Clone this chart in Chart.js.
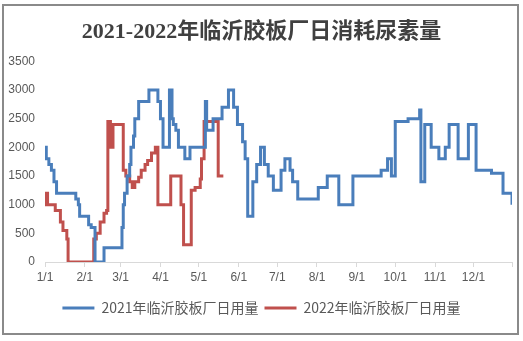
<!DOCTYPE html>
<html>
<head>
<meta charset="utf-8">
<script src="https://cdn.jsdelivr.net/npm/chart.js@4.4.0/dist/chart.umd.min.js"></script>
<style>
  body { margin: 0; background: #fff; }
  #wrap { position: relative; width: 523px; height: 341px; }
  #frame { position: absolute; left: 2px; top: 4px; width: 517px; height: 331px; border: 2px solid #8a8a8a; box-sizing: border-box; pointer-events: none; }
</style>
</head>
<body>
<div id="wrap">
  <canvas id="usageChart" width="523" height="341"></canvas>
  <div id="frame"></div>
</div>
<script>
const chartTitle = '2021-2022年临沂胶板厂日消耗尿素量';
const seriesNames = ['2021年临沂胶板厂日用量', '2022年临沂胶板厂日用量'];

// day of year (0 = 1/1) where the value changes, and the new value
const days2021 = [0, 1, 3, 5, 7, 9, 24, 26, 27, 34, 36, 39, 46, 60, 61, 62, 64, 66, 67, 69, 70, 73,
  81, 88, 90, 92, 97, 99, 100, 102, 104, 109, 113, 125, 126, 131, 138, 143, 147, 150, 154, 156,
  158, 162, 165, 168, 171, 174, 178, 184, 187, 191, 193, 197, 213, 220, 229, 240, 262, 267, 270,
  273, 283, 292, 293, 296, 301, 307, 312, 315, 322, 330, 336, 348, 357, 364];
const values2021 = [2000, 1800, 1700, 1600, 1400, 1200, 1100, 1000, 800, 650, 600, 0, 250, 600, 1000, 1200, 1500, 1700, 2000, 2200, 2500, 2800,
  3000, 2800, 2500, 2000, 3000, 2500, 2400, 2300, 2000, 1800, 2000, 2800, 2300, 2500, 2700, 3000, 2700, 2400, 2100, 1800,
  800, 1400, 1700, 2000, 1700, 1500, 1250, 1600, 1800, 1600, 1400, 1100, 1300, 1500, 1000, 1500, 1600, 1800, 1500,
  2450, 2500, 2650, 1400, 2400, 2000, 1800, 2000, 2400, 1800, 2400, 1600, 1550, 1200, 1000];

const days2022 = [0, 1, 2, 8, 12, 14, 17, 18, 38, 40, 43, 46, 48, 49, 51, 53, 61, 63, 66, 68, 70, 73, 75,
  78, 80, 83, 86, 88, 98, 106, 108, 114, 117, 121, 122, 124, 135, 139];
const values2022 = [1000, 1200, 1000, 900, 700, 550, 400, 0, 400, 500, 700, 850, 900, 2450, 2000, 2400, 1600, 1500, 1400, 1300, 1400, 1480, 1600,
  1700, 1770, 1900, 2000, 1000, 1500, 1000, 300, 1250, 1300, 1450, 1800, 2450, 1500, 1500];

const tickDays = [0, 31, 59, 90, 120, 151, 181, 212, 243, 273, 304, 334, 364];
const tickLabels = ['1/1', '2/1', '3/1', '4/1', '5/1', '6/1', '7/1', '8/1', '9/1', '10/1', '11/1', '12/1', ''];

const toPoints = (xs, ys) => xs.map((d, i) => ({ x: d, y: ys[i] }));
const axisFont = { family: '"Liberation Sans", Arial, sans-serif', size: 12 };

new Chart(document.getElementById('usageChart'), {
    type: 'line',
    data: {
        datasets: [{
            label: seriesNames[0],
            data: toPoints(days2021, values2021),
            borderColor: '#4a7ebb',
            backgroundColor: '#4a7ebb',
            borderWidth: 3,
            stepped: true,
            pointRadius: 0
        }, {
            label: seriesNames[1],
            data: toPoints(days2022, values2022),
            borderColor: '#c0504d',
            backgroundColor: '#c0504d',
            borderWidth: 3,
            stepped: true,
            pointRadius: 0
        }]
    },
    options: {
        responsive: false,
        animation: false,
        layout: { padding: { top: 19, left: 0, right: 0, bottom: 16 } },
        plugins: {
            title: {
                display: true,
                text: chartTitle,
                color: '#404040',
                font: { family: '"Liberation Serif", "Noto Sans CJK SC", serif', size: 22, weight: 'bold' },
                padding: { top: 0, bottom: 16 }
            },
            legend: {
                position: 'bottom',
                labels: {
                    usePointStyle: true,
                    pointStyle: 'line',
                    pointStyleWidth: 32,
                    padding: 6,
                    color: '#595959',
                    font: { family: '"Noto Sans CJK SC", sans-serif', size: 14 }
                }
            },
            tooltip: { enabled: false }
        },
        scales: {
            x: {
                type: 'linear',
                min: 0,
                max: 364,
                afterBuildTicks: s => { s.ticks = tickDays.map(v => ({ value: v })); },
                afterFit: s => { s.height = 33; },
                ticks: {
                    autoSkip: false,
                    maxRotation: 0,
                    padding: 3,
                    color: '#595959',
                    font: axisFont,
                    callback: (v, i) => tickLabels[i]
                },
                grid: { drawOnChartArea: false, tickLength: 5, color: '#d9d9d9' },
                border: { color: '#d9d9d9' }
            },
            y: {
                min: 0,
                max: 3500,
                afterFit: s => { s.width = 45; },
                ticks: { stepSize: 500, padding: 10, color: '#595959', font: axisFont, callback: v => String(v) },
                grid: { display: false, drawTicks: false },
                border: { display: false }
            },
            spare: {
                position: 'right',
                afterFit: s => { s.width = 11; },
                ticks: { display: false },
                grid: { display: false, drawTicks: false },
                border: { display: false }
            }
        }
    }
});
</script>
</body>
</html>
